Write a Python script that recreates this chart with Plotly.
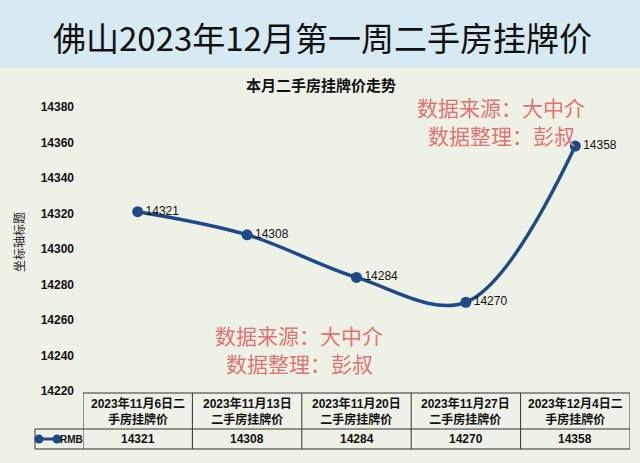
import plotly.graph_objects as go

categories = ["2023年11月6日二手房挂牌价", "2023年11月13日二手房挂牌价", "2023年11月20日二手房挂牌价",
              "2023年11月27日二手房挂牌价", "2023年12月4日二手房挂牌价"]
values = [14321, 14308, 14284, 14270, 14358]
series_name = "RMB"
y_ticks = [14220, 14240, 14260, 14280, 14300, 14320, 14340, 14360, 14380]
title_text = "佛山2023年12月第一周二手房挂牌价"
subtitle_text = "本月二手房挂牌价走势"
y_title = "坐标轴标题"
watermark_lines = ["数据来源：大中介", "数据整理：彭叔"]

W, H = 640, 463
ML, MR, MT, MB = 83, 10, 107, 72
PW, PH = W - ML - MR, H - MT - MB

def px2x(px):
    return (px - ML) / PW

def py2y(py):
    return (H - MB - py) / PH

LINE = "#1f4a8a"
BG = "#eef1e5"
BANNER = "#d7e9f1"
WM = "#e07474"
SANS = "Liberation Sans, Noto Sans CJK SC, sans-serif"
CJK = "Noto Sans CJK SC, sans-serif"

xs = list(range(len(categories)))

fig = go.Figure()
fig.add_trace(go.Scatter(
    x=xs, y=values, mode="lines+markers+text",
    line=dict(color=LINE, width=3.5, shape="spline", smoothing=1.0),
    marker=dict(color=LINE, size=11),
    text=[str(v) for v in values], textposition="middle right",
    textfont=dict(family=SANS, size=12, color="#111"),
    cliponaxis=False, showlegend=False, name=series_name,
))

shapes = []
annotations = []

def ann(text, x, y, size, family=CJK, color="#111", xref="paper", **kw):
    annotations.append(dict(text=text, xref=xref, yref="paper", x=x, y=y, showarrow=False,
                            xanchor="center", yanchor="middle", borderpad=0, borderwidth=0,
                            font=dict(family=family, size=size, color=color), **kw))

# banner
shapes.append(dict(type="rect", xref="paper", yref="paper", x0=px2x(0), x1=px2x(W),
                   y0=py2y(68), y1=py2y(0), fillcolor=BANNER, line=dict(width=0), layer="below"))
ann(title_text, px2x(322), py2y(37), 33)
ann("<b>" + subtitle_text + "</b>", px2x(321), py2y(84), 15)
ann(y_title, px2x(18), py2y(242), 12, color="#222", textangle=-90)

# watermarks
for cx, cy in [(501, 107), (299, 335)]:
    ann(watermark_lines[0], px2x(cx), py2y(cy), 21, color=WM)
    ann(watermark_lines[1], px2x(cx), py2y(cy + 28), 21, color=WM)

# table
row_top, row_mid, row_bot = 393, 429, 449
tc = "#333"
shapes.append(dict(type="line", xref="x", yref="paper", x0=-0.5, x1=len(categories) - 0.5,
                   y0=py2y(row_top), y1=py2y(row_top), line=dict(color=tc, width=1)))
for ypx in [row_mid, row_bot]:
    shapes.append(dict(type="line", xref="paper", yref="paper", x0=px2x(35), x1=1,
                       y0=py2y(ypx), y1=py2y(ypx), line=dict(color=tc, width=1)))
for i in range(len(categories) + 1):
    shapes.append(dict(type="line", xref="x", yref="paper", x0=i - 0.5, x1=i - 0.5,
                       y0=py2y(row_top), y1=py2y(row_bot), line=dict(color=tc, width=1)))
shapes.append(dict(type="line", xref="paper", yref="paper", x0=px2x(35), x1=px2x(35),
                   y0=py2y(row_mid), y1=py2y(row_bot), line=dict(color=tc, width=1)))

for i, (c, v) in enumerate(zip(categories, values)):
    label = c[:11] + "<br>" + c[11:]
    ann("<b>" + label + "</b>", i, py2y((row_top + row_mid) / 2), 12, family=SANS, xref="x")
    ann("<b>" + str(v) + "</b>", i, py2y((row_mid + row_bot) / 2), 12, family=SANS, xref="x")

# legend key
ly = (row_mid + row_bot) / 2
shapes.append(dict(type="line", xref="paper", yref="paper", x0=px2x(37), x1=px2x(58),
                   y0=py2y(ly), y1=py2y(ly), line=dict(color=LINE, width=3)))
for cx in [39, 57]:
    shapes.append(dict(type="circle", xref="paper", yref="paper", x0=px2x(cx - 4.5), x1=px2x(cx + 4.5),
                       y0=py2y(ly + 4.5), y1=py2y(ly - 4.5), fillcolor=LINE, line=dict(width=0)))
ann("<b>" + series_name + "</b>", px2x(71), py2y(ly), 10, family=SANS)

fig.update_layout(
    width=W, height=H, margin=dict(l=ML, r=MR, t=MT, b=MB),
    paper_bgcolor=BG, plot_bgcolor=BG,
    shapes=shapes, annotations=annotations,
    xaxis=dict(range=[-0.5, len(categories) - 0.5], showticklabels=False, showgrid=False,
               zeroline=False, showline=False, fixedrange=True),
    yaxis=dict(range=[y_ticks[0], y_ticks[-1]], tickvals=y_ticks, tickformat="d", showgrid=False,
               zeroline=False, showline=False, ticks="", ticklabelstandoff=8,
               tickfont=dict(family=SANS, size=12, color="#111", weight="bold")),
    showlegend=False,
)

fig.write_html("out.html")
